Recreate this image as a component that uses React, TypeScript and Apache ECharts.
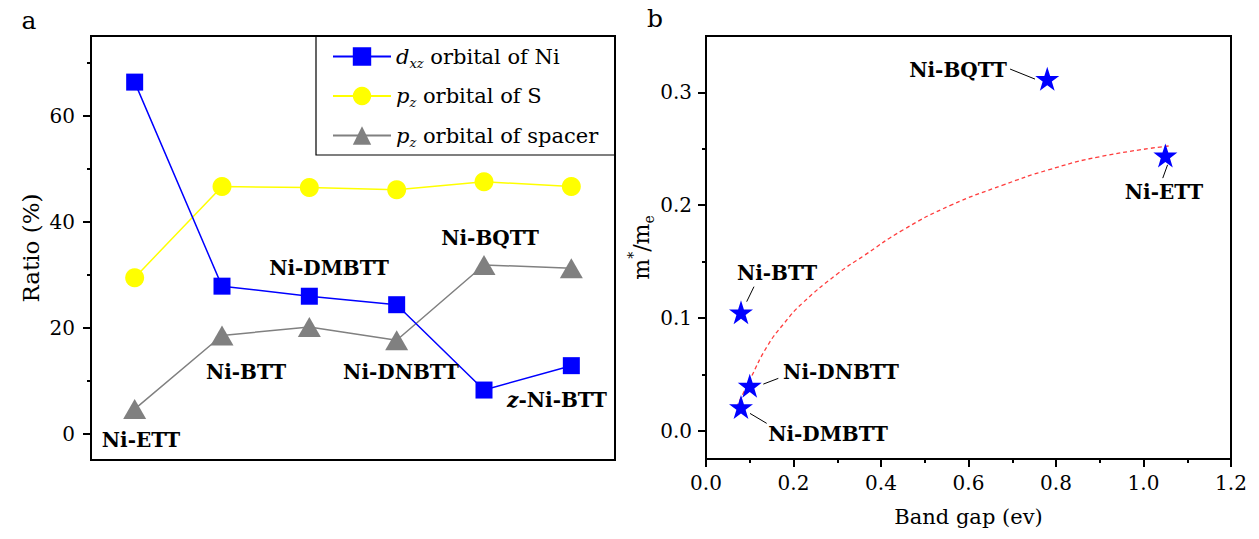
import React, { useEffect, useRef } from 'react';
import * as echarts from 'echarts';

// ---------- Panel a data ----------
const categories = ['Ni-ETT', 'Ni-BTT', 'Ni-DMBTT', 'Ni-DNBTT', 'Ni-BQTT', 'z-Ni-BTT'];
const dxzNi = [66.3, 27.8, 25.9, 24.3, 8.2, 12.8];
const pzS = [29.4, 46.6, 46.4, 46.0, 47.5, 46.6];
const pzSpacer = [4.6, 18.5, 20.1, 17.6, 31.8, 31.2];
const ratioMajorTicks = [0, 20, 40, 60];
const ratioMinorTicks = [10, 30, 50, 70];

// ---------- Panel b data ----------
const materials = ['Ni-BQTT', 'Ni-ETT', 'Ni-BTT', 'Ni-DNBTT', 'Ni-DMBTT'];
const bandGap = [0.78, 1.05, 0.08, 0.1, 0.08];
const massRatio = [0.312, 0.244, 0.105, 0.04, 0.021];
const fitX = [0.07, 0.1, 0.14, 0.18, 0.22, 0.3, 0.36, 0.45, 0.56, 0.68, 0.78, 0.9, 1.06];
const fitY = [0.021, 0.045, 0.075, 0.096, 0.113, 0.139, 0.155, 0.178, 0.2, 0.218, 0.231, 0.243, 0.2526];
const gapMajorTicks = [0, 0.2, 0.4, 0.6, 0.8, 1.0, 1.2];
const gapMinorTicks = [0.1, 0.3, 0.5, 0.7, 0.9, 1.1];
const massMajorTicks = [0, 0.1, 0.2, 0.3];
const massMinorTicks = [0.05, 0.15, 0.25];
// arrows: [fromX, fromY] -> [toX, toY] in data coordinates
const arrowFrom = [[0.695, 0.3207], [1.044, 0.224], [0.1097, 0.1278], [0.1653, 0.0465], [0.1387, 0.0066]];
const arrowTo = [[0.752, 0.3118], [1.055, 0.2358], [0.093, 0.1145], [0.131, 0.0414], [0.1006, 0.0154]];

const SERIF = '"DejaVu Serif", serif';
const STAR = 'path://M12,0 L14.9,8.6 L24,8.6 L16.6,14 L19.4,22.8 L12,17.4 L4.6,22.8 L7.4,14 L0,8.6 L9.1,8.6 Z';
const AXIS_LINE = { show: true, onZero: false, lineStyle: { color: '#000', width: 2 } };
const TICK_STYLE = { color: '#000', width: 2 };

function boldLabel(text: string, x: number, y: number) {
  return {
    type: 'text',
    z: 50,
    style: {
      text,
      x,
      y,
      align: 'center',
      verticalAlign: 'middle',
      fontFamily: SERIF,
      fontWeight: 'bold',
      fontSize: 20,
      fill: '#000',
    },
  };
}

export default function App() {
  const ref = useRef<HTMLDivElement>(null);
  useEffect(() => {
    document.body.style.margin = '0';
    if (!ref.current) return;
    const chart = echarts.init(ref.current, undefined, { renderer: 'svg' });

    const tickLabel = { fontFamily: SERIF, fontSize: 20, color: '#000' };
    const legendNames: Record<string, string> = {
      dxz: '{i|d}{s|xz}{t| orbital of Ni}',
      pzS: '{i|p}{s|z}{t| orbital of S}',
      pzSp: '{i|p}{s|z}{t| orbital of spacer}',
    };

    const option: any = {
      animation: false,
      backgroundColor: '#fff',
      grid: [
        { left: 91, top: 36, width: 524, height: 424, show: true, borderColor: '#000', borderWidth: 2, backgroundColor: 'transparent' },
        { left: 706, top: 36, width: 525, height: 423, show: true, borderColor: '#000', borderWidth: 2, backgroundColor: 'transparent' },
      ],
      xAxis: [
        {
          gridIndex: 0,
          type: 'category',
          data: categories,
          boundaryGap: true,
          axisLine: AXIS_LINE,
          axisTick: { show: false },
          axisLabel: { show: false },
          splitLine: { show: false },
        },
        {
          gridIndex: 1,
          type: 'value',
          position: 'bottom',
          min: 0,
          max: 1.2,
          axisLine: AXIS_LINE,
          axisTick: { show: true, length: 8, customValues: gapMajorTicks, lineStyle: TICK_STYLE },
          axisLabel: { ...tickLabel, margin: 14, customValues: gapMajorTicks, formatter: (v: number) => v.toFixed(1) },
          splitLine: { show: false },
          name: 'Band gap (ev)',
          nameLocation: 'middle',
          nameGap: 47,
          nameTextStyle: { fontFamily: SERIF, fontSize: 21, color: '#000' },
        },
        {
          gridIndex: 1,
          type: 'value',
          position: 'bottom',
          min: 0,
          max: 1.2,
          axisLine: AXIS_LINE,
          axisTick: { show: true, length: 4, customValues: gapMinorTicks, lineStyle: TICK_STYLE },
          axisLabel: { show: false },
          splitLine: { show: false },
        },
      ],
      yAxis: [
        {
          gridIndex: 0,
          type: 'value',
          position: 'left',
          min: -5,
          max: 75,
          axisLine: AXIS_LINE,
          axisTick: { show: true, length: 8, customValues: ratioMajorTicks, lineStyle: TICK_STYLE },
          axisLabel: { ...tickLabel, margin: 16, customValues: ratioMajorTicks },
          splitLine: { show: false },
          name: 'Ratio (%)',
          nameLocation: 'middle',
          nameGap: 49,
          nameTextStyle: { fontFamily: SERIF, fontSize: 23, color: '#000' },
        },
        {
          gridIndex: 0,
          type: 'value',
          position: 'left',
          min: -5,
          max: 75,
          axisLine: AXIS_LINE,
          axisTick: { show: true, length: 4, customValues: ratioMinorTicks, lineStyle: TICK_STYLE },
          axisLabel: { show: false },
          splitLine: { show: false },
        },
        {
          gridIndex: 1,
          type: 'value',
          position: 'left',
          min: -0.025,
          max: 0.35,
          axisLine: AXIS_LINE,
          axisTick: { show: true, length: 8, customValues: massMajorTicks, lineStyle: TICK_STYLE },
          axisLabel: { ...tickLabel, margin: 14, customValues: massMajorTicks, formatter: (v: number) => v.toFixed(1) },
          splitLine: { show: false },
          name: '{a|m}{sup|*}{a|/m}{sub|e}',
          nameLocation: 'middle',
          nameGap: 49,
          nameTextStyle: {
            fontFamily: SERIF,
            fontSize: 22,
            color: '#000',
            rich: {
              a: { fontFamily: SERIF, fontSize: 22, color: '#000', lineHeight: 30, verticalAlign: 'middle' },
              sup: { fontFamily: SERIF, fontSize: 14, color: '#000', lineHeight: 14, verticalAlign: 'top' },
              sub: { fontFamily: SERIF, fontSize: 14, color: '#000', lineHeight: 14, verticalAlign: 'bottom' },
            },
          },
        },
        {
          gridIndex: 1,
          type: 'value',
          position: 'left',
          min: -0.025,
          max: 0.35,
          axisLine: AXIS_LINE,
          axisTick: { show: true, length: 4, customValues: massMinorTicks, lineStyle: TICK_STYLE },
          axisLabel: { show: false },
          splitLine: { show: false },
        },
      ],
      legend: {
        orient: 'vertical',
        left: 332,
        top: 46,
        itemWidth: 58,
        itemHeight: 23,
        itemGap: 16,
        padding: 0,
        selectedMode: false,
        data: ['dxz', 'pzS', 'pzSp'],
        formatter: (name: string) => legendNames[name],
        textStyle: {
          fontFamily: SERIF,
          fontSize: 21,
          color: '#000',
          rich: {
            i: { fontFamily: SERIF, fontSize: 21, fontStyle: 'italic', color: '#000', lineHeight: 26, verticalAlign: 'middle' },
            s: { fontFamily: SERIF, fontSize: 13, fontStyle: 'italic', color: '#000', lineHeight: 13, verticalAlign: 'bottom' },
            t: { fontFamily: SERIF, fontSize: 21, color: '#000', lineHeight: 26, verticalAlign: 'middle' },
          },
        },
      },
      series: [
        {
          name: 'dxz',
          type: 'line',
          xAxisIndex: 0,
          yAxisIndex: 0,
          data: dxzNi,
          symbol: 'rect',
          symbolSize: 17,
          lineStyle: { color: '#0000ff', width: 1.5 },
          itemStyle: { color: '#0000ff' },
          z: 3,
        },
        {
          name: 'pzS',
          type: 'line',
          xAxisIndex: 0,
          yAxisIndex: 0,
          data: pzS,
          symbol: 'circle',
          symbolSize: 19,
          lineStyle: { color: '#ffff00', width: 1.5 },
          itemStyle: { color: '#ffff00' },
          z: 2,
        },
        {
          name: 'pzSp',
          type: 'line',
          xAxisIndex: 0,
          yAxisIndex: 0,
          data: pzSpacer,
          symbol: 'triangle',
          symbolSize: [23, 20],
          lineStyle: { color: '#808080', width: 1.5 },
          itemStyle: { color: '#808080' },
          z: 2,
        },
        {
          name: 'fit',
          type: 'line',
          xAxisIndex: 1,
          yAxisIndex: 2,
          data: fitX.map((x, i) => [x, fitY[i]]),
          smooth: true,
          showSymbol: false,
          symbol: 'none',
          lineStyle: { color: 'rgba(255,40,40,0.9)', width: 1.3, type: [4, 3] },
          z: 2,
        },
        {
          name: 'mass',
          type: 'scatter',
          xAxisIndex: 1,
          yAxisIndex: 2,
          data: bandGap.map((x, i) => ({ value: [x, massRatio[i]], name: materials[i] })),
          symbol: STAR,
          symbolSize: 24,
          itemStyle: { color: '#0000ff', opacity: 1 },
          z: 3,
          markLine: {
            silent: true,
            animation: false,
            symbol: ['none', 'arrow'],
            symbolSize: [0, 9],
            label: { show: false },
            lineStyle: { color: '#000', width: 1, type: 'solid' },
            data: arrowFrom.map((f, i) => [
              { coord: f, symbol: 'none' },
              { coord: arrowTo[i], symbol: 'arrow' },
            ]),
          },
        },
      ],
      graphic: [
        { type: 'rect', z: 40, shape: { x: 316, y: 36, width: 299, height: 119 }, style: { fill: 'none', stroke: '#000', lineWidth: 1.2 } },
        { type: 'text', style: { text: 'a', x: 29, y: 20, align: 'center', verticalAlign: 'middle', fontFamily: SERIF, fontSize: 25, fill: '#000' } },
        { type: 'text', style: { text: 'b', x: 655, y: 18, align: 'center', verticalAlign: 'middle', fontFamily: SERIF, fontSize: 25, fill: '#000' } },
        boldLabel('Ni-ETT', 141, 440),
        boldLabel('Ni-BTT', 246, 372),
        boldLabel('Ni-DMBTT', 329, 268),
        boldLabel('Ni-BQTT', 490, 238),
        boldLabel('Ni-DNBTT', 401, 372),
        {
          type: 'text',
          z: 50,
          style: {
            text: '{it|z}{b|-Ni-BTT}',
            x: 557,
            y: 400,
            align: 'center',
            verticalAlign: 'middle',
            fontFamily: SERIF,
            fontWeight: 'bold',
            fontSize: 20,
            fill: '#000',
            rich: {
              it: { fontFamily: SERIF, fontWeight: 'bold', fontStyle: 'italic', fontSize: 20, fill: '#000' },
              b: { fontFamily: SERIF, fontWeight: 'bold', fontSize: 20, fill: '#000' },
            },
          },
        },
        boldLabel('Ni-BQTT', 958, 70),
        boldLabel('Ni-ETT', 1164, 192),
        boldLabel('Ni-BTT', 777, 273),
        boldLabel('Ni-DNBTT', 841, 372),
        boldLabel('Ni-DMBTT', 828, 434),
      ],
    };
    chart.setOption(option);
    return () => chart.dispose();
  }, []);
  return <div ref={ref} style={{ width: 1259, height: 539 }} />;
}
